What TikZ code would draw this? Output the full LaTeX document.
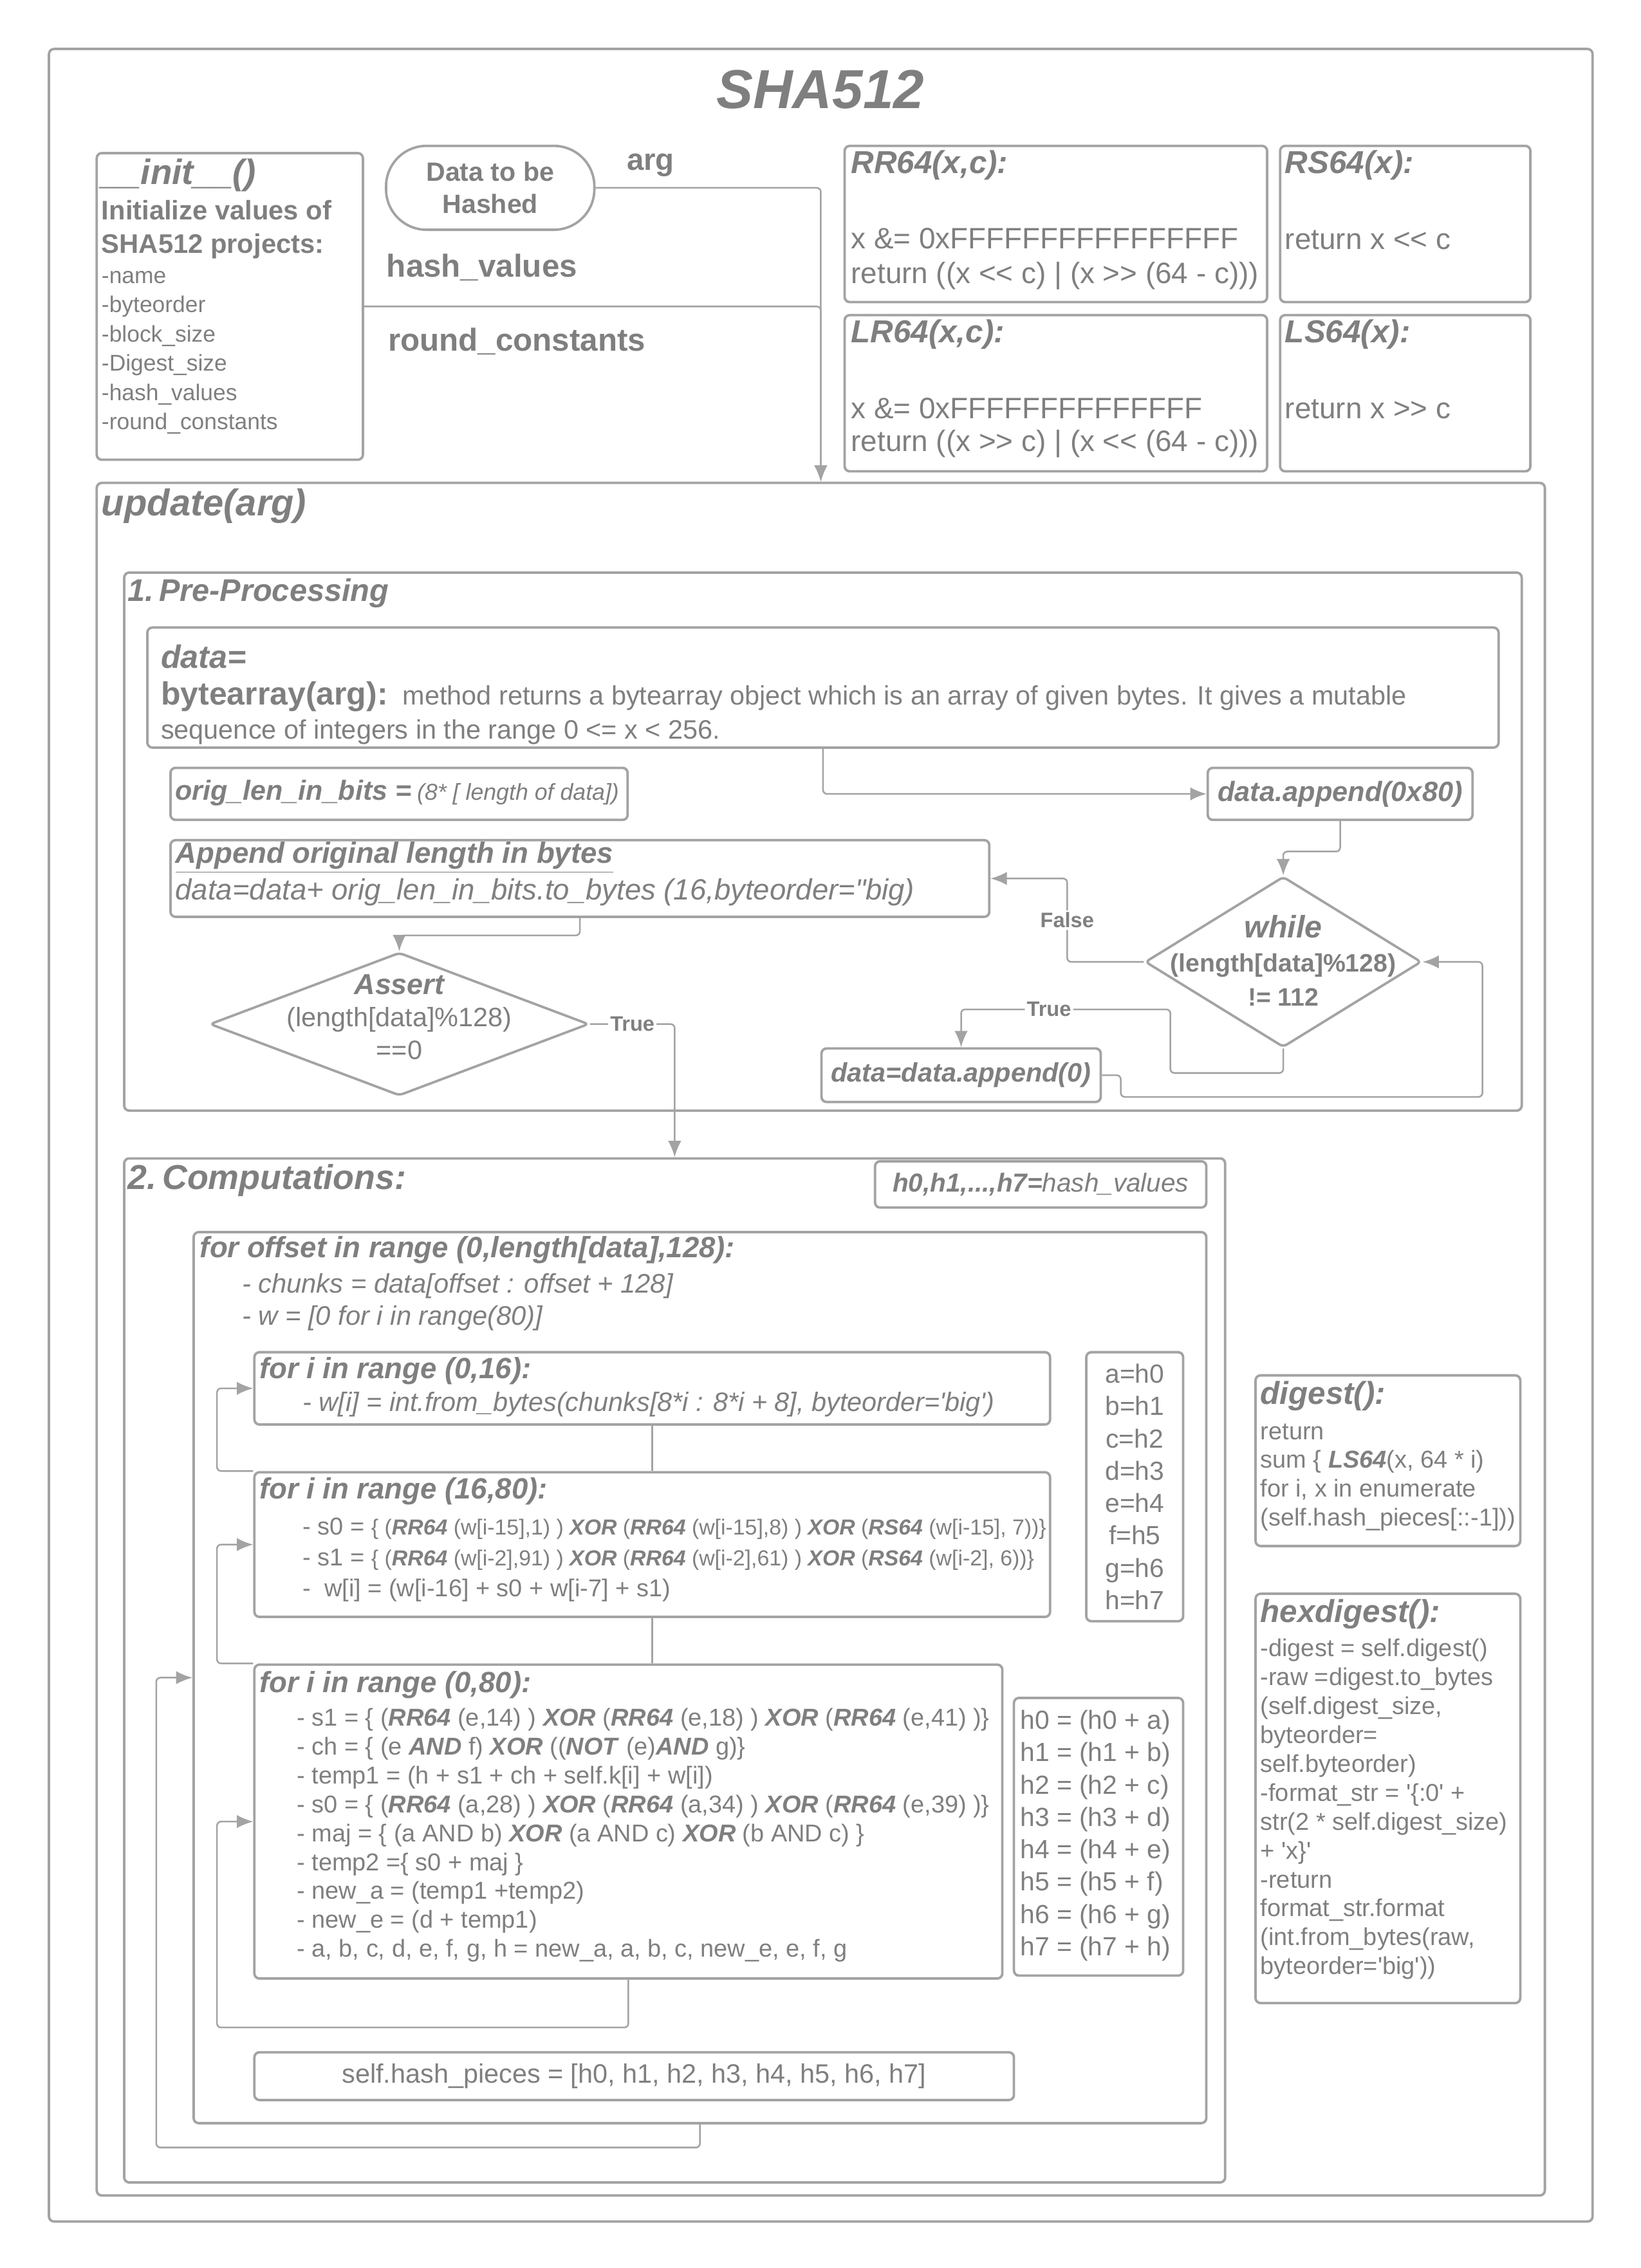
\documentclass[tikz,border=0pt]{standalone}
\usepackage{fontspec}
\setmainfont{Liberation Sans}[Ligatures=TeXOff]
\usetikzlibrary{shapes.geometric,arrows.meta,calc}

\definecolor{txt}{RGB}{127,127,127}
\definecolor{ln}{RGB}{163,163,163}
\newcommand{\fsz}[2]{\fontsize{#1}{#2}\selectfont}
\newcommand{\bi}[1]{\textbf{\textit{#1}}}

\tikzset{
	box/.style={draw=ln, line width=1.2pt, rounded corners=2.5pt, anchor=north west, inner sep=0pt},
	wh/.style 2 args={minimum width=#1*0.025cm, minimum height=#2*0.025cm},
	dia/.style={draw=ln, line width=1.2pt, diamond, inner sep=0pt, rounded corners=2pt},
	tx/.style={text=txt, inner sep=0pt},
	lbl/.style={tx, anchor=west},
	code/.style={tx, anchor=base west, align=left},% placed at the baseline of the last line
	cnt/.style={draw=ln, line width=0.8pt, rounded corners=2pt},
	arr/.style={cnt, -{Latex[length=8pt,width=6.5pt]}},
	tag/.style={text=txt, fill=white, inner sep=1pt, font=\fsz{10.3pt}{12pt}\bfseries}
}

\begin{document}
\begin{tikzpicture}[x=0.025cm, y=-0.025cm]
\useasboundingbox (0,0) rectangle (1134,1568);

% frame and title
\node[box, wh={1067}{1502}] (frame) at (33,33) {};
\node[tx, font=\fsz{27pt}{30pt}\bfseries\itshape] (title) at (567,62) {SHA512};

% __init__
\node[box, wh={184}{212}] (init) at (66,105) {};
\node[lbl, font=\fsz{17.3pt}{20pt}\bfseries\itshape] (initt) at (70,121) {\_\_init\_\_()};
\node[code, font=\fsz{13.2pt}{16.4pt}\bfseries] (initd) at (70,175) {Initialize values of\\SHA512 projects:};
\node[code, font=\fsz{11.2pt}{14.4pt}] (initl) at (70,297) {-name\\-byteorder\\-block\_size\\-Digest\_size\\-hash\_values\\-round\_constants};

% input
\node[box, wh={144}{58}, rounded corners=0.7cm] (dtb) at (266,100) {};
\node[tx, align=center, font=\fsz{13pt}{15.6pt}\bfseries] (dtbt) at (dtb.center) {Data to be\\Hashed};
\node[lbl, font=\fsz{15pt}{18pt}\bfseries] (arg) at (433,114) {arg};
\node[lbl, font=\fsz{15.6pt}{18pt}\bfseries] (hvals) at (267,185) {hash\_values};
\node[lbl, font=\fsz{15.6pt}{18pt}\bfseries] (rcons) at (268,236) {round\_constants};

% rotations and shifts
\node[box, wh={292}{108}] (rr) at (583,100) {};
\node[lbl, font=\fsz{15.6pt}{18pt}\bfseries\itshape] (rrt) at (588,114) {RR64(x,c):};
\node[code, font=\fsz{14.5pt}{17pt}] (rrc) at (588,196) {x \&= 0xFFFFFFFFFFFFFFFF\\return ((x << c) | (x >> (64 - c)))};
\node[box, wh={173}{108}] (rs) at (884,100) {};
\node[lbl, font=\fsz{15.6pt}{18pt}\bfseries\itshape] (rst) at (888,114) {RS64(x):};
\node[lbl, font=\fsz{14.5pt}{17pt}] (rsc) at (888,166) {return x << c};
\node[box, wh={292}{108}] (lr) at (583,217) {};
\node[lbl, font=\fsz{15.6pt}{18pt}\bfseries\itshape] (lrt) at (588,231) {LR64(x,c):};
\node[code, font=\fsz{14.5pt}{16pt}] (lrc) at (588,312) {x \&= 0xFFFFFFFFFFFFFF\\return ((x >> c) | (x << (64 - c)))};
\node[box, wh={173}{108}] (ls) at (884,217) {};
\node[lbl, font=\fsz{15.6pt}{18pt}\bfseries\itshape] (lst) at (888,231) {LS64(x):};
\node[lbl, font=\fsz{14.5pt}{17pt}] (lsc) at (888,283) {return x >> c};

% update
\node[box, wh={1001}{1184}] (upd) at (66,333) {};
\node[lbl, font=\fsz{18.3pt}{20pt}\bfseries\itshape] (updt) at (70,350) {update(arg)};

\draw[arr] (dtb.east) -| (upd.north);
\draw[arr] (init.east) -| (upd.north);

% 1. pre-processing
\node[box, wh={966}{372}] (pre) at (85,395) {};
\node[lbl, font=\fsz{15.4pt}{18pt}\bfseries\itshape] (pret) at (88,410) {1.\,Pre-Processing};
\node[box, wh={934}{83}] (dat) at (101,433) {};
\node[lbl, font=\fsz{15.9pt}{18pt}\bfseries\itshape] (datt) at (111,454) {data=};
\node[code, font=\fsz{13.1pt}{17pt}] (datd) at (111,511) {{\fsz{15.8pt}{17pt}\bfseries bytearray(arg):}\ \ method returns a bytearray object which is an array of given bytes. It gives a mutable\\sequence of integers in the range 0 <= x < 256.};
\node[box, wh={316}{36}] (orig) at (117,530) {};
\node[lbl] (origt) at (121,548) {{\fsz{13.6pt}{16pt}\bfseries\itshape orig\_len\_in\_bits =} {\fsz{11.3pt}{14pt}\itshape (8* [ length of data])}};
\node[box, wh={183}{36}] (app80) at (834,530) {};
\node[tx, font=\fsz{13.7pt}{16pt}\bfseries\itshape] (app80t) at (app80.center) {data.append(0x80)};
\node[box, wh={566}{53}] (appl) at (117,580) {};
\node[lbl, font=\fsz{14.4pt}{17pt}\bfseries\itshape] (applt) at (121,593) {\underline{Append original length in bytes}};
\node[lbl, font=\fsz{14.4pt}{17pt}\itshape] (appld) at (121,617) {data=data+ orig\_len\_in\_bits.to\_bytes (16,byteorder="big)};
\node[dia, wh={191}{118}] (whl) at (887,665) {};
\node[tx, align=center, font=\fsz{12.4pt}{16.8pt}\bfseries] (whlt) at (887,664) {{\fsz{15.3pt}{16.8pt}\itshape while}\\(length[data]\%128)\\!= 112};
\node[box, wh={193}{37}] (ap0) at (567,724) {};
\node[tx, font=\fsz{13.1pt}{16pt}\bfseries\itshape] (ap0t) at (ap0.center) {data=data.append(0)};
\node[dia, wh={262}{99}] (ass) at (276,708) {};
\node[tx, align=center, font=\fsz{13.1pt}{16pt}] (asst) at (276,703) {{\fsz{14.2pt}{16pt}\bfseries\itshape Assert}\\(length[data]\%128)\\==0};

\draw[arr] (dat.south) |- (app80.west);
\draw[arr] (app80.south) -- ++(0,21) -| (whl.north);
\draw[arr] (whl.west) -- ++(-53,0) |- (appl.east) node[tag, pos=0.25] (fls) {False};
\draw[arr] (whl.south) -- ++(0,17) -- ++(-78,0) -- ++(0,-44) -| (ap0.north) node[tag, pos=0.29] (tru1) {True};
\draw[arr] (ap0.east) -- ++(13,0) |- ++(250,15) |- (whl.east);
\draw[arr] (appl.south) -- ++(0,12) -| (ass.north);

% 2. computations
\node[box, wh={761}{708}] (comp) at (85,800) {};
\node[lbl, font=\fsz{17pt}{20pt}\bfseries\itshape] (compt) at (88,816) {2.\,Computations:};
\node[box, wh={229}{32}] (hv) at (604,802) {};
\node[tx, font=\fsz{12.8pt}{15pt}] (hvt) at (hv.center) {\bi{h0,h1,...,h7=}\textit{hash\_values}};

\draw[arr] (ass.east) -| (comp.north) node[tag, pos=0.25] (tru2) {True};

\node[box, wh={700}{616}] (off) at (133,851) {};
\node[lbl, font=\fsz{14.4pt}{17pt}\bfseries\itshape] (offt) at (138,864) {for offset in range (0,length[data],128):};
\node[code, font=\fsz{13.2pt}{15.6pt}\itshape] (offd) at (167,916) {- chunks = data[offset : offset + 128]\\- w = [0 for i in range(80)]};

\node[box, wh={550}{50}] (l16) at (175,934) {};
\node[lbl, font=\fsz{14.4pt}{17pt}\bfseries\itshape] (l16t) at (179,948) {for i in range (0,16):};
\node[lbl, font=\fsz{13.1pt}{15pt}\itshape] (l16d) at (209,971) {- w[i] = int.from\_bytes(chunks[8*i : 8*i + 8], byteorder='big')};

\node[box, wh={550}{100}] (l80) at (175,1017) {};
\node[lbl, font=\fsz{14.4pt}{17pt}\bfseries\itshape] (l80t) at (179,1031) {for i in range (16,80):};
\node[code, font=\fsz{12pt}{15.3pt}] (l80d) at (209,1104) {- s0 = {\fsz{10.7pt}{15.3pt}\{ (\bi{RR64} (w[i-15],1) ) \bi{XOR} (\bi{RR64} (w[i-15],8) ) \bi{XOR} (\bi{RS64} (w[i-15], 7))\}}\\- s1 = {\fsz{10.7pt}{15.3pt}\{ (\bi{RR64} (w[i-2],91) ) \bi{XOR} (\bi{RR64} (w[i-2],61) ) \bi{XOR} (\bi{RS64} (w[i-2], 6))\}}\\-\ \ w[i] = (w[i-16] + s0 + w[i-7] + s1)};

\node[box, wh={517}{217}] (r80) at (175,1150) {};
\node[lbl, font=\fsz{14.4pt}{17pt}\bfseries\itshape] (r80t) at (179,1165) {for i in range (0,80):};
\node[code, font=\fsz{12pt}{14.2pt}] (r80d) at (205,1353) {- s1 = \{ (\bi{RR64} (e,14) ) \bi{XOR} (\bi{RR64} (e,18) ) \bi{XOR} (\bi{RR64} (e,41) )\}\\- ch = \{ (e \bi{AND} f) \bi{XOR} ((\bi{NOT} (e)\bi{AND} g)\}\\- temp1 = (h + s1 + ch + self.k[i] + w[i])\\- s0 = \{ (\bi{RR64} (a,28) ) \bi{XOR} (\bi{RR64} (a,34) ) \bi{XOR} (\bi{RR64} (e,39) )\}\\- maj = \{ (a AND b) \bi{XOR} (a AND c) \bi{XOR} (b AND c) \}\\- temp2 =\{ s0 + maj \}\\- new\_a = (temp1 +temp2)\\- new\_e = (d + temp1)\\- a, b, c, d, e, f, g, h = new\_a, a, b, c, new\_e, e, f, g};

\node[box, wh={67}{186}] (abc) at (750,934) {};
\node[tx, align=center, font=\fsz{12.9pt}{15.9pt}] (abct) at (abc.center) {a=h0\\b=h1\\c=h2\\d=h3\\e=h4\\f=h5\\g=h6\\h=h7};
\node[box, wh={117}{192}] (hh) at (700,1173) {};
\node[tx, anchor=west, align=left, font=\fsz{12.9pt}{15.9pt}] (hht) at (705,1269) {h0 = (h0 + a)\\h1 = (h1 + b)\\h2 = (h2 + c)\\h3 = (h3 + d)\\h4 = (h4 + e)\\h5 = (h5 + f)\\h6 = (h6 + g)\\h7 = (h7 + h)};
\node[box, wh={525}{33}] (hp) at (175,1418) {};
\node[tx, font=\fsz{13.1pt}{15pt}] (hpt) at (hp.center) {self.hash\_pieces = [h0, h1, h2, h3, h4, h5, h6, h7]};

\draw[cnt] (l16.south) -- (l80.north);
\draw[arr] (l80.north west) -- ++(-25,0) |- (l16.west);
\draw[cnt] (l80.south) -- (l80.south |- r80.north);
\draw[arr] (r80.north west) -- ++(-25,0) |- (l80.west);
\draw[arr] (r80.south) -- ++(0,33) -| ($(r80.west)+(-25,0)$) -- (r80.west);
\draw[arr] (off.south) -- ++(0,16) -| ($(off.west)+(-25,0)$) -- (off.west);

% digest
\node[box, wh={183}{118}] (dig) at (867,950) {};
\node[lbl, font=\fsz{15.6pt}{18pt}\bfseries\itshape] (digt) at (871,965) {digest():};
\node[code, font=\fsz{12pt}{14.2pt}] (digd) at (871,1055) {return\\sum \{ \bi{LS64}(x, 64 * i)\\for i, x in enumerate\\(self.hash\_pieces[::-1]))};
\node[box, wh={183}{283}] (hex) at (867,1101) {};
\node[lbl, font=\fsz{15.6pt}{18pt}\bfseries\itshape] (hext) at (871,1116) {hexdigest():};
\node[code, font=\fsz{12pt}{14.2pt}] (hexd) at (871,1365) {-digest = self.digest()\\-raw =digest.to\_bytes\\(self.digest\_size,\\byteorder=\\self.byteorder)\\-format\_str = '\{:0' +\\str(2 * self.digest\_size)\\+ 'x\}'\\-return\\format\_str.format\\(int.from\_bytes(raw,\\byteorder='big'))};
\end{tikzpicture}
\end{document}
